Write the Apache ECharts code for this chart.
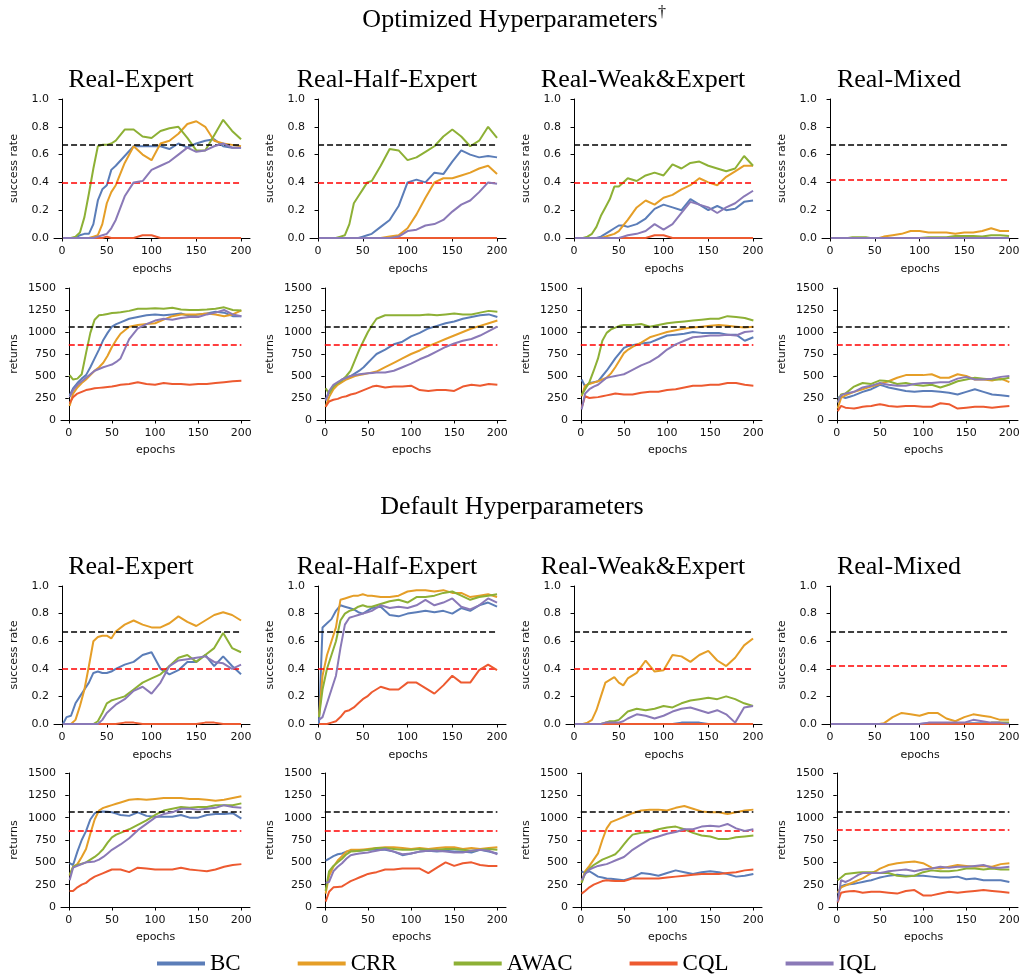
<!DOCTYPE html>
<html><head><meta charset="utf-8">
<script src="https://cdn.jsdelivr.net/npm/echarts@6/dist/echarts.min.js"></script>
<style>html,body{margin:0;padding:0;background:#fff}#c{width:1023px;height:975px}</style>
</head><body><div id="c"></div><script>
const EPOCHS = [1,5,10,15,20,25,30,35,40,45,50,55,60,70,80,90,100,110,120,130,140,150,160,170,180,190,200];
const ALGOS = ['BC','CRR','AWAC','CQL','IQL'];
const COLORS = {BC:'#5b7db8', CRR:'#e59e27', AWAC:'#8db035', CQL:'#ed5a30', IQL:'#8a79b7'};
const COLUMN_TITLES = ['Real-Expert','Real-Half-Expert','Real-Weak&Expert','Real-Mixed'];
const GROUP_TITLES = ['Optimized Hyperparameters','Default Hyperparameters'];
const SR_TICKS = [0,0.2,0.4,0.6,0.8,1.0];
const RET_TICKS = [0,250,500,750,1000,1250,1500];
const EPOCH_TICKS = [0,50,100,150,200];
const BLACK_SR = 0.67, BLACK_RET = 1065;
const RED_SR = [0.40,0.40,0.40,0.42];
const RED_RET = [850,850,850,860];

// ---------- Optimized hyperparameters ----------
const OPT_EXPERT_SR = {
  BC:  [0,0,0,0,0.02,0.03,0.03,0.10,0.27,0.35,0.38,0.49,0.52,0.59,0.66,0.66,0.66,0.66,0.64,0.68,0.65,0.68,0.70,0.71,0.66,0.65,0.65],
  CRR: [0,0,0,0,0,0,0,0.01,0.02,0.10,0.25,0.33,0.38,0.54,0.66,0.60,0.56,0.68,0.70,0.75,0.82,0.84,0.80,0.70,0.68,0.67,0.66],
  AWAC:[0,0,0,0.01,0.04,0.15,0.32,0.50,0.66,0.67,0.67,0.68,0.70,0.78,0.78,0.73,0.72,0.77,0.79,0.80,0.72,0.63,0.63,0.74,0.85,0.77,0.71],
  CQL: [0,0,0,0,0,0,0,0,0,0,0.01,0,0,0,0,0.02,0.02,0,0,0,0,0,0,0,0,0,0],
  IQL: [0,0,0,0,0,0,0,0,0.01,0.02,0.03,0.07,0.13,0.30,0.40,0.41,0.49,0.52,0.55,0.60,0.65,0.62,0.63,0.66,0.68,0.65,0.65]
};
const OPT_EXPERT_RET = {
  BC:  [280,360,420,470,510,600,700,800,910,990,1060,1090,1110,1150,1170,1190,1200,1190,1200,1210,1180,1200,1210,1230,1220,1180,1180],
  CRR: [160,300,370,420,460,510,560,600,650,730,830,910,980,1060,1080,1090,1100,1140,1180,1200,1200,1200,1210,1200,1180,1200,1245],
  AWAC:[510,460,470,520,760,990,1140,1190,1195,1205,1215,1220,1225,1240,1265,1265,1270,1265,1275,1255,1250,1250,1255,1265,1280,1250,1245],
  CQL: [190,260,300,320,340,350,360,365,370,375,380,390,400,410,430,410,400,420,410,410,400,410,410,420,430,440,445],
  IQL: [260,340,400,440,480,520,560,580,600,615,630,660,700,920,1040,1090,1130,1150,1140,1160,1170,1170,1200,1220,1250,1200,1180]
};
const OPT_HALF_SR = {
  BC:  [0,0,0,0,0,0,0,0,0,0,0.01,0.02,0.03,0.08,0.13,0.23,0.40,0.42,0.40,0.47,0.46,0.55,0.63,0.60,0.58,0.59,0.58],
  CRR: [0,0,0,0,0,0,0,0,0,0,0,0,0,0,0.01,0.02,0.07,0.17,0.29,0.40,0.43,0.43,0.45,0.47,0.50,0.52,0.46],
  AWAC:[0,0,0,0,0,0.01,0.02,0.10,0.25,0.30,0.35,0.40,0.41,0.52,0.64,0.63,0.56,0.58,0.62,0.66,0.73,0.78,0.73,0.66,0.70,0.80,0.72],
  CQL: [0,0,0,0,0,0,0,0,0,0,0,0,0,0,0,0,0,0,0,0,0,0,0,0,0,0,0],
  IQL: [0,0,0,0,0,0,0,0,0,0,0,0,0,0,0,0.01,0.05,0.06,0.09,0.10,0.13,0.19,0.24,0.27,0.33,0.40,0.39]
};
const OPT_HALF_RET = {
  BC:  [230,310,380,420,460,480,500,530,560,600,650,700,750,800,860,890,950,990,1040,1070,1100,1120,1150,1170,1190,1200,1170],
  CRR: [150,260,350,400,430,460,480,500,510,520,530,540,550,600,650,700,750,790,840,880,920,960,1000,1040,1070,1100,1130],
  AWAC:[360,300,380,420,450,500,560,680,800,900,1000,1080,1150,1190,1190,1190,1190,1190,1200,1190,1200,1210,1200,1200,1220,1240,1230],
  CQL: [150,210,230,240,260,270,290,300,320,340,360,380,390,370,380,380,390,340,330,340,340,330,380,400,390,410,400],
  IQL: [220,330,400,430,460,480,500,510,520,525,530,535,540,540,560,600,640,690,730,780,830,870,900,920,960,1010,1060]
};
const OPT_WEAK_SR = {
  BC:  [0,0,0,0,0,0,0.01,0.03,0.05,0.07,0.09,0.09,0.08,0.10,0.14,0.21,0.24,0.22,0.20,0.28,0.24,0.20,0.23,0.20,0.21,0.26,0.27],
  CRR: [0,0,0,0,0,0,0,0.01,0.02,0.03,0.05,0.09,0.13,0.22,0.27,0.24,0.29,0.31,0.35,0.38,0.43,0.40,0.38,0.44,0.48,0.52,0.52],
  AWAC:[0,0,0,0.01,0.03,0.08,0.16,0.22,0.28,0.37,0.37,0.40,0.43,0.41,0.45,0.47,0.45,0.53,0.50,0.54,0.55,0.52,0.50,0.48,0.50,0.59,0.52],
  CQL: [0,0,0,0,0,0,0,0,0,0,0,0,0,0,0,0.02,0.02,0,0,0,0,0,0,0,0,0,0],
  IQL: [0,0,0,0,0,0,0,0,0,0,0,0.01,0.02,0.03,0.05,0.10,0.06,0.10,0.18,0.26,0.24,0.22,0.18,0.22,0.25,0.30,0.34]
};
const OPT_WEAK_RET = {
  BC:  [460,380,420,430,440,500,560,630,700,760,820,840,850,870,880,920,960,970,980,1000,990,990,990,970,970,900,940],
  CRR: [270,390,410,425,440,460,480,530,600,680,760,800,830,880,940,970,1000,1020,1040,1050,1060,1070,1080,1070,1060,1050,1060],
  AWAC:[280,350,430,560,700,900,990,1030,1050,1070,1080,1080,1080,1090,1060,1080,1100,1110,1120,1130,1140,1150,1150,1180,1170,1160,1130],
  CQL: [140,270,250,255,260,270,280,290,300,295,290,290,290,310,320,320,340,350,370,390,390,400,400,420,420,400,390],
  IQL: [120,300,350,380,400,440,480,490,500,510,520,545,570,620,660,720,800,860,900,940,950,960,960,970,960,1000,1010]
};
const OPT_MIXED_SR = {
  BC:  [0,0,0,0,0,0,0,0,0,0,0,0,0,0,0,0,0,0,0,0,0,0,0,0,0,0,0],
  CRR: [0,0,0,0,0,0,0,0,0,0,0,0,0.01,0.02,0.03,0.05,0.05,0.04,0.04,0.04,0.03,0.04,0.04,0.05,0.07,0.05,0.05],
  AWAC:[0,0,0,0,0,0.005,0.005,0.005,0.005,0,0,0,0,0,0,0,0,0.005,0.005,0.005,0.015,0.015,0.015,0.01,0.02,0.02,0.015],
  CQL: [0,0,0,0,0,0,0,0,0,0,0,0,0,0,0,0,0,0,0,0,0,0,0,0,0,0,0],
  IQL: [0,0,0,0,0,0,0,0,0,0,0,0,0,0,0,0,0,0,0,0,0,0,0,0,0,0,0]
};
const OPT_MIXED_RET = {
  BC:  [250,270,250,265,280,300,320,335,350,375,400,385,370,350,330,320,330,330,320,310,290,320,350,320,290,280,270],
  CRR: [130,250,280,300,320,335,350,365,380,395,410,425,440,480,510,510,510,520,480,480,520,500,460,460,450,470,430],
  AWAC:[200,290,300,340,380,400,420,415,410,430,450,445,440,410,420,400,390,400,370,400,440,460,480,470,460,460,480],
  CQL: [100,160,140,135,130,140,150,155,160,170,180,170,160,150,160,160,150,150,190,180,130,140,150,150,140,150,160],
  IQL: [200,280,300,310,320,345,370,380,390,405,420,410,400,390,390,410,420,420,430,430,470,490,460,460,470,490,500]
};

// ---------- Default hyperparameters ----------
const DEF_EXPERT_SR = {
  BC:  [0,0.05,0.06,0.15,0.20,0.25,0.30,0.37,0.38,0.37,0.37,0.38,0.40,0.43,0.45,0.50,0.52,0.40,0.36,0.39,0.45,0.45,0.50,0.42,0.49,0.42,0.36],
  CRR: [0,0,0,0.03,0.13,0.25,0.42,0.60,0.63,0.64,0.64,0.62,0.67,0.72,0.75,0.72,0.70,0.70,0.73,0.78,0.74,0.71,0.75,0.79,0.81,0.79,0.75],
  AWAC:[0,0,0,0,0,0,0,0,0.02,0.08,0.15,0.17,0.18,0.20,0.25,0.30,0.33,0.36,0.42,0.48,0.50,0.45,0.50,0.55,0.66,0.55,0.52],
  CQL: [0,0,0,0,0,0,0,0,0,0,0,0,0,0.01,0.01,0,0,0,0,0,0,0,0.01,0.01,0,0,0],
  IQL: [0,0,0,0,0,0,0,0,0,0.03,0.08,0.11,0.14,0.18,0.24,0.27,0.22,0.30,0.42,0.46,0.47,0.48,0.49,0.45,0.44,0.40,0.43]
};
const DEF_EXPERT_RET = {
  BC:  [490,470,620,750,850,980,1050,1065,1070,1065,1060,1045,1030,1020,1060,1020,1010,1010,1010,1030,1000,1000,1030,1040,1040,1050,990],
  CRR: [350,450,480,560,650,820,980,1080,1110,1125,1140,1155,1170,1200,1210,1200,1210,1220,1220,1220,1210,1210,1200,1190,1200,1220,1240],
  AWAC:[360,450,470,485,500,530,560,600,650,720,780,810,830,870,920,970,1030,1080,1100,1120,1110,1120,1120,1140,1140,1140,1160],
  CQL: [180,180,220,250,270,310,340,360,380,400,420,420,420,390,440,430,420,420,420,440,420,410,400,420,450,470,480],
  IQL: [300,440,460,480,500,505,510,530,560,600,640,670,700,770,860,930,1000,1040,1060,1100,1100,1090,1100,1110,1140,1120,1110]
};
const DEF_HALF_SR = {
  BC:  [0,0.70,0.73,0.76,0.82,0.86,0.85,0.84,0.83,0.81,0.80,0.82,0.84,0.85,0.79,0.78,0.80,0.81,0.82,0.81,0.82,0.80,0.84,0.82,0.86,0.88,0.85],
  CRR: [0.05,0.35,0.50,0.60,0.70,0.90,0.91,0.92,0.93,0.93,0.94,0.93,0.93,0.92,0.92,0.93,0.96,0.97,0.97,0.96,0.97,0.95,0.95,0.92,0.93,0.94,0.92],
  AWAC:[0.05,0.25,0.40,0.50,0.60,0.75,0.80,0.82,0.83,0.85,0.86,0.85,0.85,0.87,0.89,0.90,0.88,0.92,0.92,0.93,0.95,0.96,0.93,0.90,0.92,0.93,0.94],
  CQL: [0,0,0,0.01,0.02,0.05,0.09,0.10,0.12,0.15,0.18,0.20,0.23,0.27,0.25,0.25,0.30,0.30,0.26,0.22,0.28,0.35,0.30,0.30,0.39,0.43,0.39],
  IQL: [0.03,0.05,0.15,0.25,0.35,0.55,0.72,0.77,0.78,0.79,0.80,0.81,0.82,0.86,0.84,0.85,0.84,0.86,0.90,0.86,0.88,0.91,0.85,0.83,0.86,0.91,0.88]
};
const DEF_HALF_RET = {
  BC:  [520,540,570,590,600,620,630,630,630,635,640,640,640,640,620,580,600,620,630,620,630,620,620,610,640,620,600],
  CRR: [150,350,450,520,570,620,640,640,640,645,650,655,660,670,670,660,650,660,650,660,670,670,650,660,650,660,670],
  AWAC:[180,400,460,500,540,590,620,625,630,635,640,650,660,660,650,640,640,650,640,640,650,650,640,630,640,650,640],
  CQL: [60,170,220,225,230,260,290,310,330,350,370,380,390,420,420,430,430,430,380,440,500,460,490,500,470,460,460],
  IQL: [270,280,400,450,490,540,580,590,600,605,610,620,630,650,620,590,600,620,630,630,620,610,610,630,640,630,590]
};
const DEF_WEAK_SR = {
  BC:  [0,0,0,0,0,0,0,0,0,0,0,0,0,0,0,0,0,0,0.01,0.01,0.01,0,0,0,0,0,0],
  CRR: [0,0,0,0.01,0.03,0.10,0.20,0.30,0.32,0.34,0.30,0.28,0.33,0.37,0.46,0.38,0.39,0.50,0.49,0.45,0.50,0.53,0.46,0.42,0.48,0.57,0.62],
  AWAC:[0,0,0,0,0,0,0,0.01,0.02,0.02,0.03,0.06,0.09,0.11,0.10,0.11,0.13,0.12,0.15,0.17,0.18,0.19,0.18,0.20,0.18,0.15,0.13],
  CQL: [0,0,0,0,0,0,0,0,0,0,0,0,0,0,0,0,0,0,0,0,0,0,0,0,0,0,0],
  IQL: [0,0,0,0,0,0,0,0.01,0.01,0.01,0.01,0.02,0.04,0.07,0.06,0.04,0.06,0.09,0.11,0.12,0.10,0.08,0.10,0.07,0.01,0.12,0.13]
};
const DEF_WEAK_RET = {
  BC:  [400,380,400,370,340,330,320,315,310,305,300,315,330,380,370,350,380,410,390,370,390,400,390,370,340,350,370],
  CRR: [280,400,460,530,600,750,880,950,970,990,1010,1030,1050,1080,1090,1090,1080,1110,1130,1100,1070,1060,1060,1040,1060,1080,1090],
  AWAC:[270,380,430,470,500,530,550,570,590,640,700,760,810,830,840,870,890,900,870,830,800,790,760,760,780,790,800],
  CQL: [150,180,220,250,270,290,300,295,290,290,290,305,320,320,320,320,330,340,350,360,370,370,370,380,390,410,420],
  IQL: [300,370,420,440,460,470,480,500,520,540,560,600,640,700,760,790,820,840,870,870,900,910,900,930,880,850,870]
};
const DEF_MIXED_SR = {
  BC:  [0,0,0,0,0,0,0,0,0,0,0,0,0,0,0,0,0,0.005,0.005,0.005,0.005,0.005,0.005,0.005,0.005,0.005,0],
  CRR: [0,0,0,0,0,0,0,0,0,0,0,0,0.005,0.05,0.08,0.07,0.06,0.08,0.08,0.04,0.02,0.05,0.07,0.06,0.05,0.03,0.03],
  AWAC:[0,0,0,0,0,0,0,0,0,0,0,0,0,0,0,0,0,0,0,0,0,0,0,0,0.01,0.01,0.01],
  CQL: [0,0,0,0,0,0,0,0,0,0,0,0,0,0,0,0,0,0,0,0,0,0,0,0,0,0,0],
  IQL: [0,0,0,0,0,0,0,0,0,0,0,0,0,0,0,0,0,0.01,0.01,0.01,0.01,0.01,0.03,0.02,0.01,0.01,0]
};
const DEF_MIXED_RET = {
  BC:  [150,230,250,255,260,270,280,290,300,315,330,340,350,360,350,350,350,340,330,330,340,310,320,300,300,300,280],
  CRR: [160,220,240,260,280,300,320,350,380,400,430,450,470,490,500,510,490,440,430,450,470,460,450,460,450,480,490],
  AWAC:[300,330,370,375,380,385,390,390,390,385,380,380,380,350,340,350,390,410,400,400,410,430,430,420,430,420,420],
  CQL: [50,160,170,175,180,170,160,165,170,170,170,165,160,150,180,190,130,130,150,170,160,170,180,190,180,170,160],
  IQL: [60,300,280,300,330,360,380,380,380,380,380,390,400,410,420,400,420,430,450,440,450,450,460,470,440,440,450]
};

const SR_DATA = [[OPT_EXPERT_SR,OPT_HALF_SR,OPT_WEAK_SR,OPT_MIXED_SR],[DEF_EXPERT_SR,DEF_HALF_SR,DEF_WEAK_SR,DEF_MIXED_SR]];
const RET_DATA = [[OPT_EXPERT_RET,OPT_HALF_RET,OPT_WEAK_RET,OPT_MIXED_RET],[DEF_EXPERT_RET,DEF_HALF_RET,DEF_WEAK_RET,DEF_MIXED_RET]];

// layout
const SR_TOP = [99, 586], SR_H = [139, 138];
const RET_TOP = [288, 773], RET_H = [132, 134];
const COL_STEP = 256;

const FONT_SANS = '"DejaVu Sans"';
const FONT_SERIF = '"Liberation Serif"';

const grids = [], xAxes = [], yAxes = [], series = [], graphics = [];

function addPanel(g, c, kind) {
  const isSr = kind === 'sr';
  const idx = grids.length;
  const left = isSr ? 54 + COL_STEP * c : 61 + COL_STEP * c;
  const right = 250 + COL_STEP * c;
  grids.push({left: left, top: isSr ? SR_TOP[g] : RET_TOP[g], width: right - left, height: isSr ? SR_H[g] : RET_H[g]});
  const axisLine = {show: true, lineStyle: {color: '#000', width: 1}};
  const axisTick = {show: true, length: 3.5, lineStyle: {color: '#000', width: 1}};
  const lab = {color: '#111', fontFamily: FONT_SANS, fontSize: 11};
  xAxes.push({
    type: 'value', gridIndex: idx, min: -9, max: 210,
    axisLine: axisLine,
    axisTick: Object.assign({customValues: EPOCH_TICKS}, axisTick),
    axisLabel: Object.assign({customValues: EPOCH_TICKS, margin: 8}, lab),
    splitLine: {show: false},
    name: 'epochs', nameLocation: 'middle', nameGap: isSr ? 26 : 25,
    nameTextStyle: {color: '#111', fontFamily: FONT_SANS, fontSize: 11}
  });
  const ticks = isSr ? SR_TICKS : RET_TICKS;
  yAxes.push({
    type: 'value', gridIndex: idx, min: ticks[0], max: ticks[ticks.length - 1],
    interval: ticks[1] - ticks[0],
    axisLine: axisLine, axisTick: axisTick,
    axisLabel: Object.assign({margin: 5, formatter: isSr ? (v => v.toFixed(1)) : (v => String(v))}, lab),
    splitLine: {show: false},
    name: isSr ? 'success rate' : 'returns', nameLocation: 'middle', nameGap: isSr ? 34 : 41,
    nameTextStyle: {color: '#111', fontFamily: FONT_SANS, fontSize: 11}
  });
  const data = isSr ? SR_DATA[g][c] : RET_DATA[g][c];
  const black = isSr ? BLACK_SR : BLACK_RET;
  const red = isSr ? RED_SR[c] : RED_RET[c];
  ALGOS.forEach((a, k) => {
    const s = {
      type: 'line', name: a, xAxisIndex: idx, yAxisIndex: idx,
      data: EPOCHS.map((e, i) => [e, data[a][i]]),
      showSymbol: false, symbol: 'none', animation: false,
      lineStyle: {width: 2, color: COLORS[a]}, itemStyle: {color: COLORS[a]},
      z: 2 + k
    };
    if (k === 0) {
      s.markLine = {
        silent: true, symbol: ['none', 'none'], animation: false, label: {show: false},
        lineStyle: {type: [6, 3], width: 1.6},
        data: [
          [{coord: [0, black], lineStyle: {color: '#000', type: [6, 3], width: 1.6}}, {coord: [200, black]}],
          [{coord: [0, red], lineStyle: {color: '#f00', type: [6, 3], width: 1.6}}, {coord: [200, red]}]
        ]
      };
    }
    series.push(s);
  });
}

for (let g = 0; g < 2; g++) {
  for (let c = 0; c < 4; c++) {
    addPanel(g, c, 'sr');
    addPanel(g, c, 'ret');
    graphics.push({type: 'text', x: 131 + COL_STEP * c, y: g === 0 ? 80 : 567,
      style: {text: COLUMN_TITLES[c], fontFamily: FONT_SERIF, fontSize: 26, fill: '#000', align: 'center', verticalAlign: 'middle'}});
  }
}
graphics.push({type: 'text', x: 510, y: 20, style: {text: GROUP_TITLES[0], fontFamily: FONT_SERIF, fontSize: 26, fill: '#000', align: 'center', verticalAlign: 'middle'}});
graphics.push({type: 'text', x: 658, y: 5, style: {text: '\u2020', fontFamily: FONT_SERIF, fontSize: 16, fill: '#000', align: 'left', verticalAlign: 'top'}});
graphics.push({type: 'text', x: 512, y: 507, style: {text: GROUP_TITLES[1], fontFamily: FONT_SERIF, fontSize: 26, fill: '#000', align: 'center', verticalAlign: 'middle'}});

const chart = echarts.init(document.getElementById('c'), null, {renderer: 'canvas'});
chart.setOption({
  backgroundColor: '#fff',
  animation: false,
  grid: grids, xAxis: xAxes, yAxis: yAxes, series: series,
  graphic: graphics,
  legend: {
    data: ALGOS, left: 152, top: 947, itemWidth: 48, itemHeight: 4, itemGap: 57, icon: 'rect',
    textStyle: {fontFamily: FONT_SERIF, fontSize: 23, color: '#000'}
  }
});
</script></body></html>
